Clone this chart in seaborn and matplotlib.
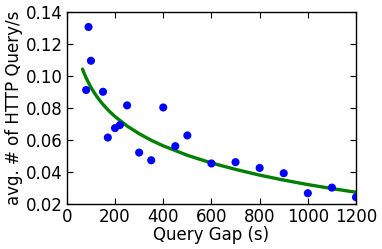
import matplotlib
matplotlib.use("Agg")
import matplotlib.pyplot as plt
import seaborn as sns

# Measured points
gap = [80, 90, 100, 150, 170, 200, 220, 250, 300, 350, 400, 450, 500,
       600, 700, 800, 900, 1000, 1100, 1200]
avg_query = [0.0912, 0.1306, 0.1095, 0.0901, 0.0615, 0.0674, 0.0693, 0.0816,
             0.0521, 0.0473, 0.0803, 0.0561, 0.0628, 0.0453, 0.0461, 0.0425,
             0.0392, 0.0267, 0.0302, 0.0242]

# Fitted curve
fit_gap = [65, 72, 80, 90, 100, 112, 125, 137, 150, 175, 200, 250, 300, 350,
           400, 500, 600, 700, 800, 900, 1000, 1100, 1200]
fit_query = [0.1043, 0.1016, 0.0988, 0.0957, 0.0929, 0.0899, 0.0870, 0.0846,
             0.0822, 0.0781, 0.0746, 0.0687, 0.0639, 0.0598, 0.0563, 0.0504,
             0.0456, 0.0416, 0.0380, 0.0349, 0.0321, 0.0296, 0.0273]

# Styling
sns.set_style("ticks", {"xtick.direction": "in", "ytick.direction": "in",
                        "axes.edgecolor": "black", "text.color": "black",
                        "axes.labelcolor": "black", "xtick.color": "black",
                        "ytick.color": "black"})
plt.rcParams['font.family'] = ['DejaVu Sans']
plt.rcParams['font.size'] = 12

fig = plt.figure(figsize=(3.82, 2.49), dpi=100)
ax = fig.add_axes([0.175, 0.181, 0.757, 0.771])

sns.scatterplot(x=gap, y=avg_query, color='#0000ff', s=34, edgecolor='none',
                ax=ax, zorder=3)
sns.lineplot(x=fit_gap, y=fit_query, color='#007f00', linewidth=2.4, ax=ax,
             zorder=2)

ax.set_xlim(0, 1200)
ax.set_ylim(0.02, 0.14)
ax.set_xticks(range(0, 1201, 200))
ax.set_yticks([0.02, 0.04, 0.06, 0.08, 0.10, 0.12, 0.14])
ax.set_yticklabels(['0.02', '0.04', '0.06', '0.08', '0.10', '0.12', '0.14'])
ax.tick_params(direction='in', top=True, right=True, length=4, width=0.8,
               labelsize=12, pad=3, colors='black')
for s in ax.spines.values():
    s.set_visible(True)
    s.set_linewidth(1.0)
ax.set_xlabel("Query Gap (s)", fontsize=12, labelpad=0)
ax.set_ylabel("avg. # of HTTP Query/s", fontsize=12, labelpad=2)

fig.savefig("out.png", dpi=100)
